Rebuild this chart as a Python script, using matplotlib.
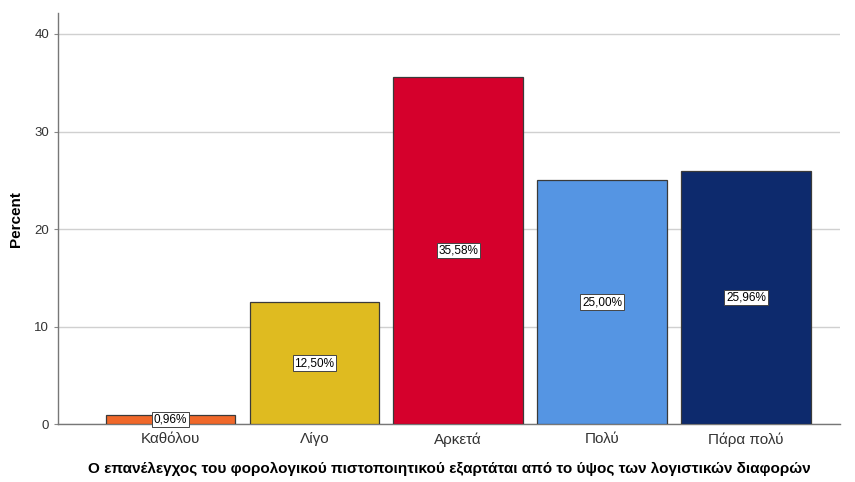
import numpy as np
import matplotlib.pyplot as plt

categories = ["Καθόλου", "Λίγο", "Αρκετά", "Πολύ", "Πάρα πολύ"]
percent = [0.96, 12.50, 35.58, 25.00, 25.96]
bar_colors = ["#F0682A", "#DFBB20", "#D5002C", "#5595E3", "#0D2A6D"]

plt.rcParams["font.family"] = ["Liberation Sans", "DejaVu Sans"]

fig = plt.figure(figsize=(8.55, 4.82), dpi=100)
ax = fig.add_axes([0.068, 0.12, 0.914, 0.853])

x = np.arange(len(categories))
ax.bar(x, percent, width=0.9, color=bar_colors, edgecolor="#3a3a3a",
       linewidth=0.9, zorder=3)

# value labels in white boxes at mid-height of each bar
for xi, v in zip(x, percent):
    ax.text(xi, v / 2, f"{v:.2f}%".replace(".", ","), ha="center", va="center",
            fontsize=8.5, color="black", zorder=4,
            bbox=dict(boxstyle="square,pad=0.15", facecolor="white",
                      edgecolor="#444444", linewidth=0.7))

ax.set_xlim(-0.78, 4.65)
ax.set_ylim(0, 42.15)
ax.set_yticks([0, 10, 20, 30, 40])
ax.set_xticks(x)
ax.set_xticklabels(categories, fontsize=11, color="#333333")
ax.tick_params(axis="y", labelsize=9.5, colors="#333333", length=3,
               width=0.8, color="#888888")
ax.tick_params(axis="x", length=0, pad=6)

ax.yaxis.grid(True, color="#d0d0d0", linewidth=1.0, zorder=0)
ax.set_axisbelow(True)

for side in ["top", "right"]:
    ax.spines[side].set_visible(False)
for side in ["left", "bottom"]:
    ax.spines[side].set_color("#777777")
    ax.spines[side].set_linewidth(1.0)

ax.set_ylabel("Percent", fontsize=11, fontweight="bold", labelpad=8)
ax.set_xlabel("Ο επανέλεγχος του φορολογικού πιστοποιητικού εξαρτάται από το ύψος των λογιστικών διαφορών",
              fontsize=11, fontweight="bold", labelpad=11)

fig.savefig("out.png", dpi=100)
